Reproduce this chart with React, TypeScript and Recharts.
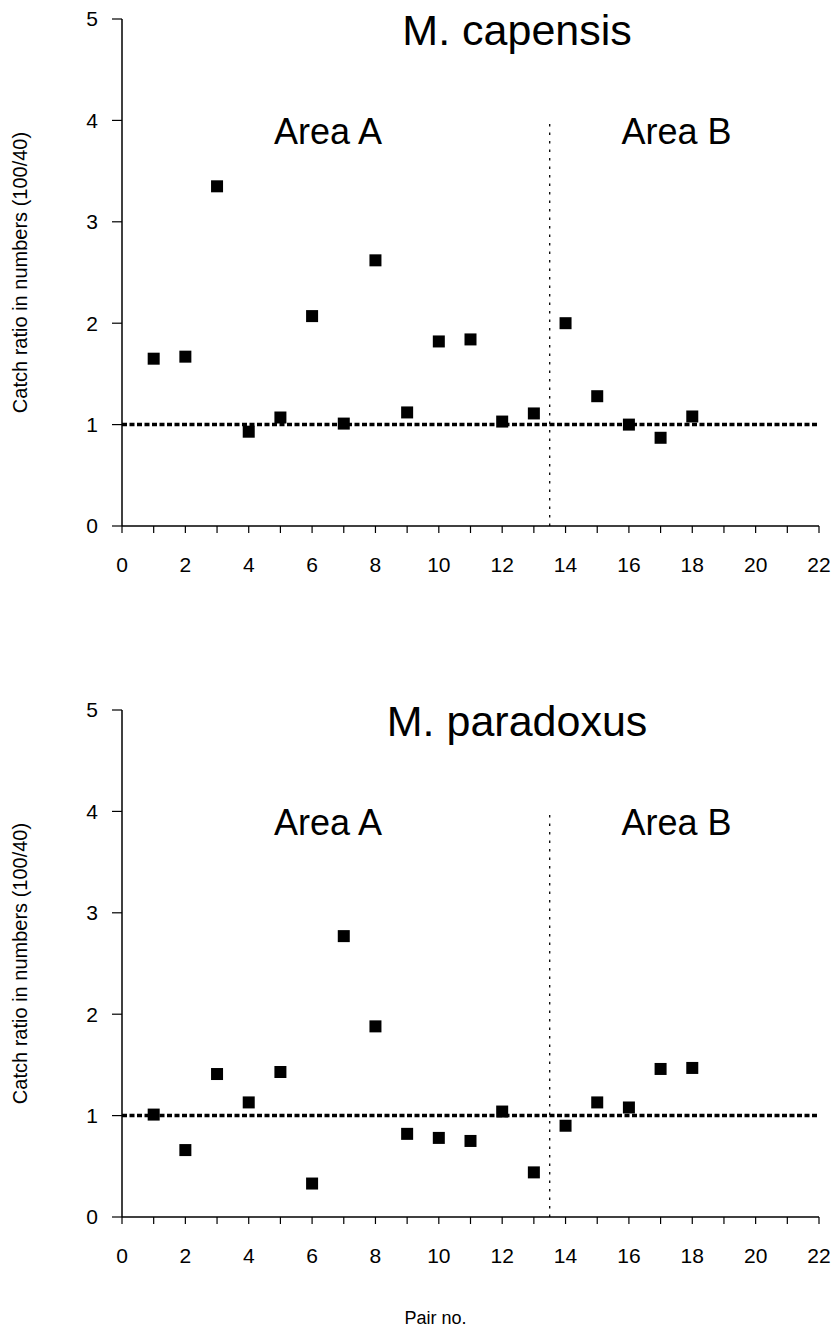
import React from 'react';
import {
  ScatterChart,
  Scatter,
  XAxis,
  YAxis,
  ReferenceLine,
  ReferenceDot,
} from 'recharts';

// pair numbers 1..18
const pairs = [1, 2, 3, 4, 5, 6, 7, 8, 9, 10, 11, 12, 13, 14, 15, 16, 17, 18];

// catch ratio (100/40)
const capensis = [
  1.65, 1.67, 3.35, 0.93, 1.07, 2.07, 1.01, 2.62, 1.12, 1.82, 1.84, 1.03,
  1.11, 2.0, 1.28, 1.0, 0.87, 1.08,
];
const paradoxus = [
  1.01, 0.66, 1.41, 1.13, 1.43, 0.33, 2.77, 1.88, 0.82, 0.78, 0.75, 1.04,
  0.44, 0.9, 1.13, 1.08, 1.46, 1.47,
];

const xTicks = [
  0, 1, 2, 3, 4, 5, 6, 7, 8, 9, 10, 11, 12, 13, 14, 15, 16, 17, 18, 19, 20,
  21, 22,
];
const yTicks = [0, 1, 2, 3, 4, 5];

const FONT = '"Liberation Sans", Arial, Helvetica, sans-serif';

const toPoints = (vals: number[]) =>
  pairs.map((p, i) => ({ pair: p, ratio: vals[i] }));

// filled black square marker
const Square = (props: any) => {
  const { cx, cy } = props;
  if (cx == null || cy == null) return null;
  return <rect x={cx - 6} y={cy - 6} width={12} height={12} fill="#000" />;
};

function Panel({
  title,
  values,
  height,
  bottom,
  showXLabel,
}: {
  title: string;
  values: number[];
  height: number;
  bottom: number;
  showXLabel?: boolean;
}) {
  const data = toPoints(values);
  return (
    <ScatterChart
      width={835}
      height={height}
      margin={{ top: 19, right: 16, bottom, left: 4 }}
      style={{ fontFamily: FONT }}
    >
      <XAxis
        type="number"
        dataKey="pair"
        domain={[0, 22]}
        ticks={xTicks}
        interval={0}
        tickFormatter={(v: number) => (v % 2 === 0 ? String(v) : '')}
        tick={{ fill: '#000', fontSize: 21, fontFamily: FONT }}
        tickSize={7}
        tickMargin={24}
        axisLine={{ stroke: '#000', strokeWidth: 1.5 }}
        tickLine={{ stroke: '#000', strokeWidth: 1.2 }}
        height={60}
        label={
          showXLabel
            ? {
                value: 'Pair no.',
                position: 'bottom',
                offset: 34,
                dx: -35,
                style: { fill: '#000', fontSize: 18, fontFamily: FONT },
              }
            : undefined
        }
      />
      <YAxis
        type="number"
        dataKey="ratio"
        domain={[0, 5]}
        ticks={yTicks}
        interval={0}
        tick={{ fill: '#000', fontSize: 21, fontFamily: FONT }}
        tickSize={10}
        tickMargin={14}
        axisLine={{ stroke: '#000', strokeWidth: 1.5 }}
        tickLine={{ stroke: '#000', strokeWidth: 1.2 }}
        width={118}
        label={{
          value: 'Catch ratio in numbers (100/40)',
          angle: -90,
          position: 'insideLeft',
          offset: 16,
          style: {
            textAnchor: 'middle',
            fill: '#000',
            fontSize: 20,
            fontFamily: FONT,
          },
        }}
      />
      {/* ratio = 1 */}
      <ReferenceLine
        y={1}
        stroke="#000"
        strokeWidth={3.5}
        strokeDasharray="5 2.5"
      />
      {/* area split */}
      <ReferenceLine
        segment={[
          { x: 13.5, y: 0 },
          { x: 13.5, y: 4 },
        ]}
        stroke="#000"
        strokeWidth={1.3}
        strokeDasharray="2.5 6"
      />
      <ReferenceDot
        x={12.47}
        y={4.89}
        r={0}
        ifOverflow="visible"
        label={{
          value: title,
          position: 'center',
          style: { fill: '#000', fontSize: 43, fontFamily: FONT },
        }}
      />
      <ReferenceDot
        x={6.5}
        y={3.89}
        r={0}
        label={{
          value: 'Area A',
          position: 'center',
          style: { fill: '#000', fontSize: 36, fontFamily: FONT },
        }}
      />
      <ReferenceDot
        x={17.5}
        y={3.89}
        r={0}
        label={{
          value: 'Area B',
          position: 'center',
          style: { fill: '#000', fontSize: 36, fontFamily: FONT },
        }}
      />
      <Scatter data={data} shape={Square} isAnimationActive={false} />
    </ScatterChart>
  );
}

export default function App() {
  return (
    <div
      style={{
        position: 'absolute',
        left: 0,
        top: 0,
        width: 835,
        height: 1338,
        background: '#fff',
      }}
    >
      <div style={{ position: 'absolute', left: 0, top: 0 }}>
        <Panel title="M. capensis" values={capensis} height={600} bottom={14} />
      </div>
      <div style={{ position: 'absolute', left: 0, top: 691 }}>
        <Panel
          title="M. paradoxus"
          values={paradoxus}
          height={647}
          bottom={61}
          showXLabel
        />
      </div>
    </div>
  );
}
